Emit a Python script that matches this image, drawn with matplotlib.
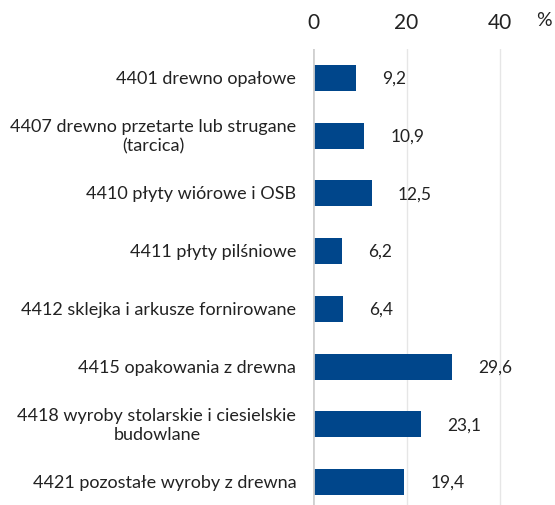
import matplotlib.pyplot as plt
import matplotlib.transforms as mtransforms

categories = [
    "4401 drewno opałowe",
    "4407 drewno przetarte lub strugane\n(tarcica)",
    "4410 płyty wiórowe i OSB",
    "4411 płyty pilśniowe",
    "4412 sklejka i arkusze fornirowane",
    "4415 opakowania z drewna",
    "4418 wyroby stolarskie i ciesielskie\nbudowlane",
    "4421 pozostałe wyroby z drewna",
]
values = [9.2, 10.9, 12.5, 6.2, 6.4, 29.6, 23.1, 19.4]
value_labels = ["9,2", "10,9", "12,5", "6,2", "6,4", "29,6", "23,1", "19,4"]
xticks = [0, 20, 40]

plt.rcParams['font.family'] = ['Lato', 'DejaVu Sans']

fig = plt.figure(figsize=(5.55, 5.06), dpi=100)
W, H = 555, 506
left, right, top, bottom = 313, 547, 50, 512
ax = fig.add_axes([left / W, 1 - bottom / H, (right - left) / W, (bottom - top) / H])

y = list(range(len(categories)))
ax.barh(y, values, height=0.45, color='#00468b', zorder=3)
ax.set_ylim(len(categories) - 0.5, -0.5)
ax.set_xlim(0, 50)

ax.set_yticks(y)
ax.set_yticklabels([])
ax.tick_params(axis='y', length=0)
trans = mtransforms.blended_transform_factory(ax.transAxes, ax.transData) + \
    mtransforms.ScaledTranslation(-12 / 72, 0, fig.dpi_scale_trans)
for yi, cat in zip(y, categories):
    ax.text(0, yi, cat, transform=trans, ha='right', va='center',
            multialignment='center', fontsize=13, color='#222222')

ax.xaxis.tick_top()
ax.set_xticks(xticks)
ax.set_xticklabels([str(t) for t in xticks], fontsize=15, color='#222222')
ax.tick_params(axis='x', length=0, pad=12)

for t in xticks[1:]:
    ax.axvline(t, color='#e6e6e6', lw=1, zorder=1)
ax.axvline(0, color='#d0d0d0', lw=2, zorder=4)

for s in ax.spines.values():
    s.set_visible(False)

for yi, v, lab in zip(y, values, value_labels):
    ax.annotate(lab, (v, yi), xytext=(19, 0), textcoords='offset points',
                ha='left', va='center', fontsize=12.5, color='#222222')

fig.text(544 / W, 1 - 20 / H, "%", fontsize=14, color='#222222', ha='center', va='center')

fig.savefig('out.png', dpi=100)
